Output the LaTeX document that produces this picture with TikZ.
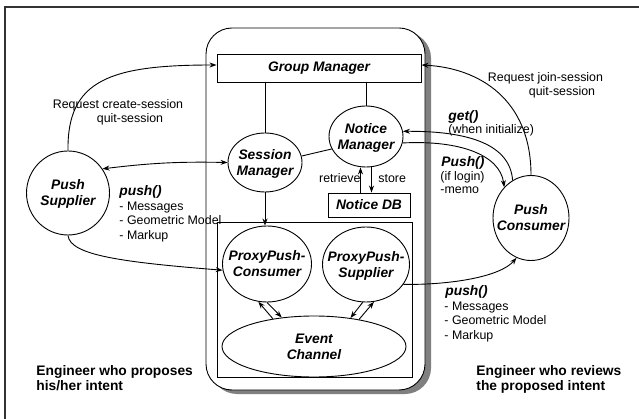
\documentclass[tikz,border=0pt]{standalone}
\usepackage{fontspec}
\setmainfont{Liberation Sans}
\usetikzlibrary{shapes.geometric,arrows.meta}
\newcommand\zw[1]{\makebox[0pt]{#1}}
\tikzset{
  tip/.tip={Stealth[length=7pt,width=5pt]},
  arr/.style={-tip},
  arrboth/.style={tip-tip},
  bifont/.style={font=\fontsize{13.8pt}{16pt}\selectfont\bfseries\itshape},
  oval/.style={ellipse, draw, bifont, align=center, inner sep=0pt, text depth=0pt},
  boxnode/.style={rectangle, draw, bifont, inner sep=0pt},
  txt/.style={font=\fontsize{12.4pt}{14.5pt}\selectfont, inner sep=0pt, anchor=base west},
  txtc/.style={txt, anchor=base},
  bitxt/.style={bifont, inner sep=0pt, anchor=base west},
  bigtxt/.style={font=\fontsize{13.8pt}{15pt}\selectfont\bfseries, inner sep=0pt, anchor=base west},
}
\begin{document}
\begin{tikzpicture}[x=1pt,y=-1pt,line width=0.9pt]
\useasboundingbox (0,0) rectangle (639,419);

% outer frame (top and left edges)
\draw[line width=2pt, black!80] (5,419) -- (5,7) -- (639,7);

% server container with drop shadow
\fill[black!50, rounded corners=26pt] (211,32) rectangle (431,394);
\draw[fill=white, rounded corners=26pt] (206,28) rectangle (425,390);

% server components
\node[boxnode, minimum width=204pt, minimum height=28pt] (gm) at (319,68) {Group Manager};
\node[oval, minimum width=74pt, minimum height=59pt] (sm) at (265,162.5) {\zw{Session}\\\zw{Manager}};
\node[oval, minimum width=74pt, minimum height=61pt] (nm) at (366,136.5) {\zw{Notice}\\\zw{Manager}};
\node[boxnode, minimum width=82pt, minimum height=24pt] (ndb) at (369,205) {Notice DB};
\node[draw, minimum width=195pt, minimum height=155pt, inner sep=0pt] (chan) at (314.5,299.5) {};
\node[oval, minimum width=89pt, minimum height=76pt] (ppc) at (267,264) {\zw{ProxyPush-}\\\zw{Consumer}};
\node[oval, minimum width=87pt, minimum height=75pt] (pps) at (366,264.5) {\zw{ProxyPush-}\\\zw{Supplier}};
\node[oval, minimum width=184pt, minimum height=61pt] (ec) at (314,346.5) {\zw{Event}\\\zw{Channel}};

% clients
\node[oval, minimum width=83pt, minimum height=84pt] (ps) at (68,193) {\zw{Push}\\\zw{Supplier}};
\node[oval, minimum width=76pt, minimum height=85pt] (pc) at (531,218) {\zw{Push}\\\zw{Consumer}};

% internal links
\draw (sm.north) -- (sm.north |- gm.south);
\draw (nm.north) -- (nm.north |- gm.south);
\draw (sm.10) -- (nm.200);
\coordinate (rtv) at ([xshift=-5.5pt]nm.south);
\coordinate (stv) at ([xshift=5.5pt]nm.south);
\draw[arr] (rtv |- ndb.north) -- (rtv);
\draw[arr] (stv) -- (stv |- ndb.north);
\node[txt, anchor=base east] (lret) at (361,182.5) {retrieve};
\node[txt] (lsto) at (378,182.5) {store};
\draw[arr] (sm.south) -- (sm.south |- ppc.north);

% event channel links
\draw[arr] (ec.146) -- (ppc.257);
\draw[arr] (ppc.south) -- (ec.138);
\draw[arr] (pps.265) -- (ec.38);
\draw[arr] (ec.31) -- (pps.282);

% supplier side
\draw[arrboth] (ps.35) to[bend left=4] (sm.west);
\draw[arr] (ps.north) .. controls (67,80) and (110,65) .. ([yshift=3pt]gm.west);
\node[txtc] (lreq1) at (118,108.3) {Request create-session};
\node[txtc] (lreq2) at (130,122.7) {quit-session};
\draw[arr] (ps.south) .. controls (70,255) and (120,262) .. (ppc.188);
\node[bitxt] (lp1) at (119,196) {push()};
\node[txt] (lp2) at (119,210.5) {- Messages};
\node[txt] (lp3) at (119,225) {- Geometric Model};
\node[txt] (lp4) at (119,239.5) {- Markup};

% consumer side
\draw[arr] (pc.north) .. controls (531,100) and (480,68) .. ([yshift=3pt]gm.east);
\node[txtc] (ljn1) at (545.5,81.7) {Request join-session};
\node[txtc] (ljn2) at (562,95.7) {quit-session};
\draw[arr] (pc.116) .. controls (510,145) and (470,131) .. (nm.8);
\node[bitxt] (lg1) at (448,121) {get()};
\node[txt] (lg2) at (448,134) {(when initialize)};
\draw[arr] (nm.-10) .. controls (460,140) and (500,155) .. (pc.131);
\node[bitxt] (lq1) at (441,167) {Push()};
\node[txt] (lq2) at (440,181) {(if login)};
\node[txt] (lq3) at (440,194) {-memo};
\draw[arr] (pps.-28) .. controls (450,285) and (500,277) .. (pc.250);
\node[bitxt] (lr1) at (445,295) {push()};
\node[txt] (lr2) at (444,310.5) {- Messages};
\node[txt] (lr3) at (444,324.5) {- Geometric Model};
\node[txt] (lr4) at (444,339) {- Markup};

% roles
\node[bigtxt] (e1) at (36,375.7) {Engineer who proposes};
\node[bigtxt] (e2) at (36,390.7) {his/her intent};
\node[bigtxt] (e3) at (476,375.7) {Engineer who reviews};
\node[bigtxt] (e4) at (476,390.7) {the proposed intent};
\end{tikzpicture}
\end{document}
